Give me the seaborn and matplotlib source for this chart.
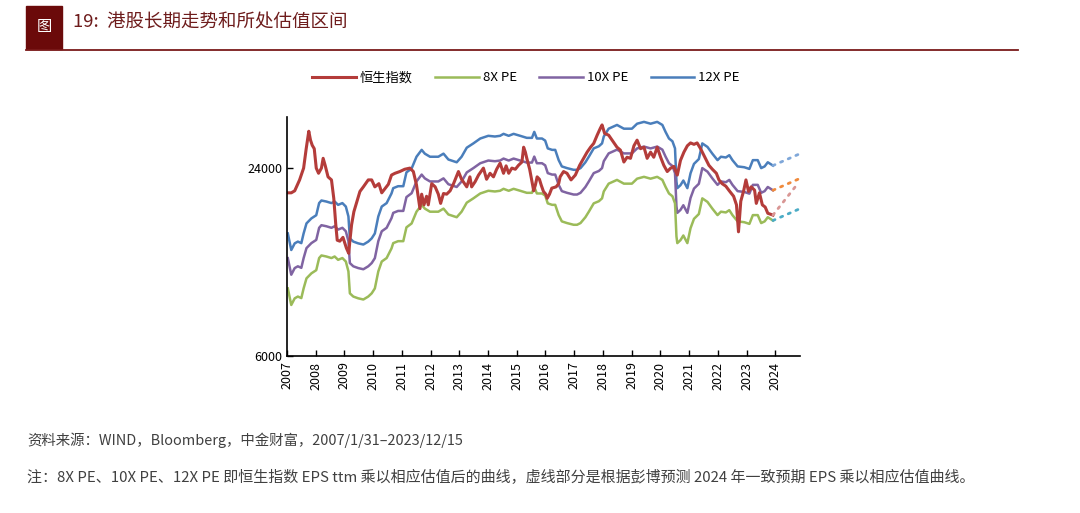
import matplotlib
matplotlib.use("Agg")
import matplotlib.pyplot as plt
import matplotlib.patches as mpatches
from matplotlib.ticker import FixedLocator, NullLocator, FuncFormatter
import pandas as pd
import seaborn as sns

# Hang Seng index (log scale)
hsi_year = [2007.03, 2007.15, 2007.27, 2007.44, 2007.58, 2007.67, 2007.76, 2007.82, 2007.88, 2007.95,
            2008.02, 2008.10, 2008.20, 2008.26, 2008.33, 2008.43, 2008.55, 2008.63, 2008.70, 2008.75,
            2008.84, 2008.95, 2009.07, 2009.15, 2009.19, 2009.25, 2009.33, 2009.43, 2009.54, 2009.66,
            2009.83, 2009.95, 2010.06, 2010.20, 2010.30, 2010.41, 2010.53, 2010.64, 2010.76, 2010.93,
            2011.10, 2011.28, 2011.40, 2011.51, 2011.63, 2011.69, 2011.77, 2011.86, 2011.92, 2012.04,
            2012.16, 2012.27, 2012.35, 2012.45, 2012.56, 2012.68, 2012.80, 2012.97, 2013.08, 2013.26,
            2013.37, 2013.43, 2013.55, 2013.67, 2013.84, 2013.95, 2014.07, 2014.19, 2014.30, 2014.42,
            2014.54, 2014.63, 2014.72, 2014.83, 2014.95, 2015.06, 2015.18, 2015.24, 2015.30, 2015.35,
            2015.45, 2015.53, 2015.59, 2015.65, 2015.71, 2015.79, 2015.85, 2015.93, 2016.01, 2016.06,
            2016.14, 2016.22, 2016.37, 2016.46, 2016.51, 2016.63, 2016.75, 2016.89, 2017.04, 2017.19,
            2017.33, 2017.45, 2017.57, 2017.68, 2017.80, 2017.91, 2017.97, 2018.06, 2018.20, 2018.32,
            2018.49, 2018.61, 2018.73, 2018.84, 2018.96, 2019.08, 2019.19, 2019.31, 2019.43, 2019.54,
            2019.66, 2019.77, 2019.89, 2020.01, 2020.12, 2020.24, 2020.36, 2020.47, 2020.59, 2020.70,
            2020.82, 2020.94, 2021.05, 2021.17, 2021.28, 2021.40, 2021.57, 2021.69, 2021.81, 2021.95,
            2022.04, 2022.15, 2022.28, 2022.40, 2022.55, 2022.65, 2022.72, 2022.80, 2022.90, 2022.98,
            2023.07, 2023.16, 2023.28, 2023.34, 2023.45, 2023.55, 2023.65, 2023.74, 2023.92]
hsi_close = [20000, 20000, 20300, 22000, 24000, 27700, 31500, 29500, 28400, 27700,
             24000, 23100, 24000, 25800, 24500, 22500, 22000, 19200, 15800, 14100,
             14000, 14400, 13300, 12800, 14000, 15800, 17400, 18700, 20200, 20900,
             22000, 22000, 20900, 21400, 20000, 20600, 21300, 22800, 23100, 23400,
             23800, 24000, 23400, 21200, 17800, 19800, 18300, 19500, 18300, 21400,
             20900, 19800, 18500, 19900, 19800, 20300, 21400, 23400, 22100, 20900,
             22500, 20900, 21700, 22800, 24000, 22100, 23100, 22500, 23800, 24900,
             23100, 24400, 23100, 24000, 23800, 24500, 25100, 28000, 27000, 25800,
             23800, 21700, 20300, 21200, 22500, 22100, 21200, 20200, 19800, 19200,
             19800, 20700, 20900, 21400, 22500, 23400, 23100, 22000, 22800, 24500,
             25800, 27000, 28000, 28800, 30600, 32200, 33000, 31000, 30600, 29500,
             28000, 27400, 25100, 26000, 25800, 28300, 29500, 27700, 28000, 25800,
             27000, 26000, 28000, 26000, 24500, 23400, 24000, 24300, 22800, 25400,
             27000, 28300, 28900, 28600, 28900, 27700, 25800, 24500, 23800, 23100,
             22000, 21400, 21000, 20300, 19500, 18300, 15000, 18800, 20300, 22000,
             20200, 20900, 20400, 18500, 20000, 18300, 18000, 17200, 16970]

# HSI EPS ttm (8X PE line / 8)
eps_year = [2007.03, 2007.15, 2007.27, 2007.38, 2007.50, 2007.58, 2007.68, 2007.85, 2008.02, 2008.12,
            2008.20, 2008.37, 2008.55, 2008.66, 2008.78, 2008.93, 2009.05, 2009.14, 2009.19, 2009.31,
            2009.48, 2009.66, 2009.83, 2009.95, 2010.06, 2010.18, 2010.30, 2010.47, 2010.64, 2010.70,
            2010.87, 2011.05, 2011.16, 2011.34, 2011.51, 2011.69, 2011.80, 2011.98, 2012.27, 2012.45,
            2012.62, 2012.91, 2013.08, 2013.26, 2013.49, 2013.73, 2014.01, 2014.24, 2014.42, 2014.54,
            2014.72, 2014.89, 2015.12, 2015.35, 2015.53, 2015.61, 2015.70, 2015.88, 2015.99, 2016.08,
            2016.23, 2016.34, 2016.46, 2016.57, 2016.75, 2016.98, 2017.10, 2017.22, 2017.39, 2017.51,
            2017.68, 2017.86, 2017.97, 2018.03, 2018.20, 2018.49, 2018.73, 2019.01, 2019.19, 2019.43,
            2019.66, 2019.89, 2020.07, 2020.18, 2020.30, 2020.42, 2020.51, 2020.56, 2020.59, 2020.70,
            2020.80, 2020.94, 2021.05, 2021.17, 2021.34, 2021.46, 2021.64, 2021.81, 2021.99, 2022.11,
            2022.28, 2022.40, 2022.51, 2022.69, 2022.92, 2023.10, 2023.22, 2023.39, 2023.51, 2023.63,
            2023.74, 2023.92]
eps_ttm = [1235, 1093, 1148, 1163, 1150, 1235, 1330, 1380, 1413, 1545,
           1575, 1563, 1545, 1563, 1525, 1545, 1506, 1400, 1191, 1163,
           1148, 1138, 1163, 1191, 1235, 1400, 1506, 1545, 1659, 1725,
           1750, 1750, 1938, 1994, 2175, 2288, 2225, 2175, 2175, 2225,
           2131, 2088, 2175, 2325, 2400, 2488, 2538, 2525, 2538, 2575,
           2538, 2575, 2538, 2500, 2500, 2613, 2488, 2488, 2450, 2313,
           2288, 2288, 2121, 2025, 2000, 1975, 1975, 2000, 2088, 2175,
           2313, 2350, 2400, 2525, 2675, 2750, 2675, 2675, 2775, 2813,
           2775, 2813, 2750, 2613, 2488, 2438, 2313, 1813, 1725, 1763,
           1825, 1725, 1925, 2063, 2138, 2400, 2338, 2225, 2121, 2175,
           2163, 2200, 2121, 2025, 2013, 1988, 2121, 2121, 2000, 2025,
           2088, 2038]

pe_multiples = [8, 10, 12]

# dotted part: Bloomberg 2024 consensus
proj_year = [2023.92, 2024.80]
hsi_proj = [16970, 21500]
eps_proj = [2038, 2212]

year_ticks = list(range(2007, 2025))
value_ticks = [6000, 24000]

line_colors = {"恒生指数": "#b43c3a", "8X PE": "#9bbb59", "10X PE": "#8064a2", "12X PE": "#4a7ebb"}
proj_colors = {"恒生指数": "#d99694", "8X PE": "#4bacc6", "10X PE": "#f08a3c", "12X PE": "#7fa7d9"}

plt.rcParams["font.family"] = ["Noto Sans CJK SC", "DejaVu Sans"]
plt.rcParams["axes.unicode_minus"] = False

frames = [pd.DataFrame({"year": hsi_year, "value": hsi_close, "series": "恒生指数"})]
for m in pe_multiples:
    frames.append(pd.DataFrame({"year": eps_year, "value": [e * m for e in eps_ttm], "series": f"{m}X PE"}))
df = pd.concat(frames, ignore_index=True)

proj_frames = [pd.DataFrame({"year": proj_year, "value": hsi_proj, "series": "恒生指数"})]
for m in pe_multiples:
    proj_frames.append(pd.DataFrame({"year": proj_year, "value": [e * m for e in eps_proj], "series": f"{m}X PE"}))
proj = pd.concat(proj_frames, ignore_index=True)

fig = plt.figure(figsize=(10.8, 5.13), dpi=100)
ax = fig.add_axes([0.2657, 0.306, 0.475, 0.466])

order = ["12X PE", "10X PE", "8X PE", "恒生指数"]
for name in order:
    sub = df[df["series"] == name]
    sns.lineplot(data=sub, x="year", y="value", ax=ax, color=line_colors[name],
                 linewidth=2.2 if name == "恒生指数" else 1.8, sort=False, estimator=None,
                 label=name)
    psub = proj[proj["series"] == name]
    sns.lineplot(data=psub, x="year", y="value", ax=ax, color=proj_colors[name],
                 linewidth=2.0, linestyle=(0, (0.8, 2.2)), sort=False, estimator=None,
                 dash_capstyle="round", legend=False)

ax.set_yscale("log")
ax.set_ylim(6000, 35000)
ax.set_xlim(2007, 2024.86)
ax.yaxis.set_major_locator(FixedLocator(value_ticks))
ax.yaxis.set_minor_locator(NullLocator())
ax.yaxis.set_major_formatter(FuncFormatter(lambda v, p: f"{int(v)}"))
ax.set_xticks(year_ticks)
ax.set_xticklabels([str(y) for y in year_ticks], rotation=90)
ax.tick_params(axis="both", direction="in", length=4, width=1, labelsize=9, colors="black")
ax.tick_params(axis="x", pad=4)
ax.set_xlabel("")
ax.set_ylabel("")
for s in ["top", "right"]:
    ax.spines[s].set_visible(False)
for s in ["left", "bottom"]:
    ax.spines[s].set_color("black")
    ax.spines[s].set_linewidth(1.2)
ax.set_facecolor("white")

handles, labels = ax.get_legend_handles_labels()
hmap = dict(zip(labels, handles))
leg_order = ["恒生指数", "8X PE", "10X PE", "12X PE"]
ax.legend([hmap[k] for k in leg_order], leg_order, loc="center", bbox_to_anchor=(0.487, 0.848),
          bbox_transform=fig.transFigure, ncol=4, frameon=False, fontsize=9.5,
          handlelength=3.3, handletextpad=0.3, columnspacing=1.7)

# header
fig.patches.append(mpatches.Rectangle((26 / 1080, 1 - 49 / 513), 36 / 1080, 43 / 513,
                                      transform=fig.transFigure, color="#6b0a0a", zorder=0))
fig.text(44 / 1080, 1 - 27 / 513, "图", color="white", fontsize=11, ha="center", va="center")
fig.text(73 / 1080, 1 - 22 / 513, "19:  港股长期走势和所处估值区间", color="#6e1c1c",
         fontsize=13.3, ha="left", va="center")
fig.add_artist(plt.Line2D([26 / 1080, 1018 / 1080], [1 - 49.5 / 513, 1 - 49.5 / 513],
                          transform=fig.transFigure, color="#7a1a1a", linewidth=1.3))

fig.text(27 / 1080, 1 - 440 / 513, "资料来源：WIND，Bloomberg，中金财富，2007/1/31–2023/12/15",
         color="#404040", fontsize=10.4, ha="left", va="center")
fig.text(27 / 1080, 1 - 478 / 513,
         "注：8X PE、10X PE、12X PE 即恒生指数 EPS ttm 乘以相应估值后的曲线，虚线部分是根据彭博预测 2024 年一致预期 EPS 乘以相应估值曲线。",
         color="#404040", fontsize=10.8, ha="left", va="center")

fig.savefig("out.png", dpi=100, facecolor="white")
